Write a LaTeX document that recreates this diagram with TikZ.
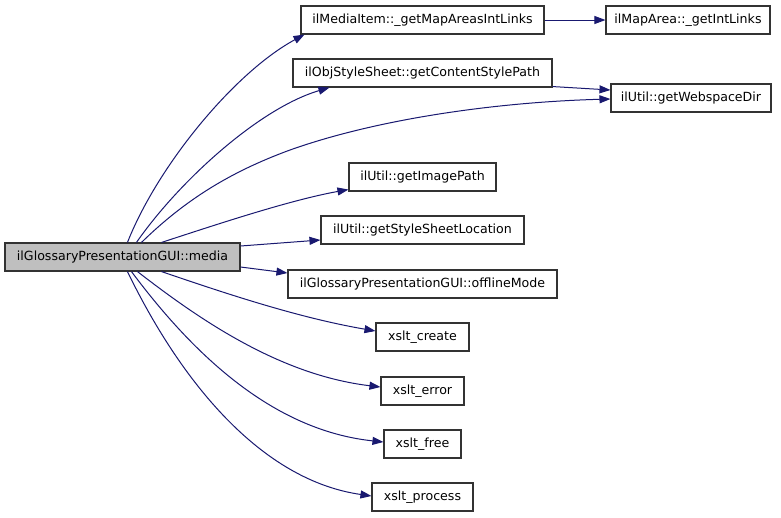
\documentclass[tikz,border=0pt]{standalone}
\usepackage{fontspec}
\setmainfont{DejaVu Sans}
\usetikzlibrary{arrows.meta,calc}
\definecolor{edgecol}{HTML}{191970}
\definecolor{boxline}{HTML}{333333}
\definecolor{mainfill}{HTML}{BFBFBF}
\begin{document}
\begin{tikzpicture}[x=1pt,y=-1pt,
  box/.style={draw=boxline,line width=1.1pt,fill=white,inner sep=0pt,minimum height=28pt,
    font=\fontsize{12.6}{15}\selectfont,anchor=center},
  mainbox/.style={box,fill=mainfill},
  conn/.style={draw=edgecol,line width=1pt,-{Triangle[length=11pt,width=8pt]}}]
\useasboundingbox[fill=white] (0,0) rectangle (781,517);
\node[mainbox,minimum width=235pt] (main) at (122.5,257) {ilGlossaryPresentationGUI::media};
\node[box,minimum width=243pt] (mi) at (422.5,20) {ilMediaItem::\_getMapAreasIntLinks};
\node[box,minimum width=164pt] (ma) at (688,20) {ilMapArea::\_getIntLinks};
\node[box,minimum width=259pt] (oss) at (422.5,73) {ilObjStyleSheet::getContentStylePath};
\node[box,minimum width=160pt] (wsd) at (691,98) {ilUtil::getWebspaceDir};
\node[box,minimum width=147pt] (img) at (422.5,177) {ilUtil::getImagePath};
\node[box,minimum width=203pt] (ssl) at (422.5,230) {ilUtil::getStyleSheetLocation};
\node[box,minimum width=269pt] (off) at (422.5,284) {ilGlossaryPresentationGUI::offlineMode};
\node[box,minimum width=93pt] (xc) at (422.5,337) {xslt\_create};
\node[box,minimum width=83pt] (xe) at (422.5,391) {xslt\_error};
\node[box,minimum width=77pt] (xf) at (422.5,444) {xslt\_free};
\node[box,minimum width=101pt] (xp) at (422.5,497) {xslt\_process};
% connectors
\draw[conn] ($(main.north west)+(123,0)$) .. controls (158,165) and (235,72) .. ($(mi.south west)+(4,0)$);
\draw[conn] ($(main.north west)+(132,0)$) .. controls (180,180) and (260,108) .. ($(oss.south west)+(37,0)$);
\draw[conn] ($(main.north west)+(137,0)$) .. controls (185,200) and (230,172) .. (290,150)
   .. controls (380,118) and (500,102) .. ($(wsd.west)+(0,1)$);
\draw[conn] ($(oss.south east)+(0,-1)$) -- ($(wsd.west)+(0,-8)$);
\draw[conn] (mi.east) -- (ma.west);
\draw[conn] ($(main.north west)+(157,0)$) .. controls (215,225) and (290,200) .. ($(img.south west)+(0,-2)$);
\draw[conn] ($(main.east)+(0,-11)$) -- ($(ssl.west)+(0,10)$);
\draw[conn] ($(main.east)+(0,10)$) -- ($(off.west)+(0,-11)$);
\draw[conn] ($(main.south west)+(157,0)$) .. controls (230,295) and (300,318) .. ($(xc.west)+(0,-6)$);
\draw[conn] ($(main.south west)+(133,0)$) .. controls (200,320) and (280,375) .. ($(xe.west)+(0,-4)$);
\draw[conn] ($(main.south west)+(127,0)$) .. controls (190,350) and (270,430) .. ($(xf.west)+(0,-2)$);
\draw[conn] ($(main.south west)+(123,0)$) .. controls (180,380) and (260,480) .. ($(xp.west)+(0,-1)$);
\end{tikzpicture}
\end{document}
